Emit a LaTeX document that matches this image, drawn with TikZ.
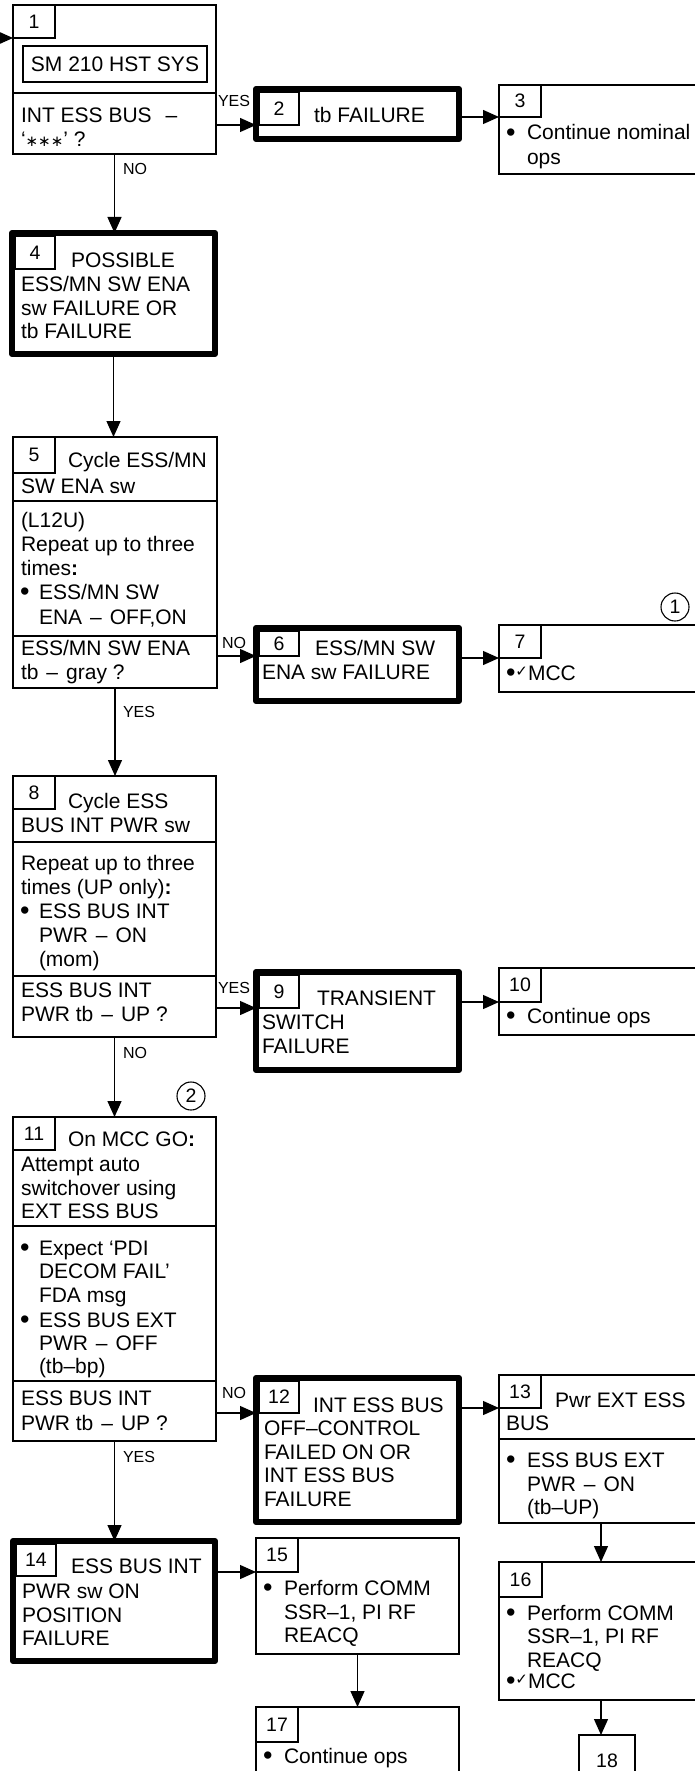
\documentclass[tikz,border=0pt]{standalone}
\usepackage{fontspec}
\setmainfont{Liberation Sans}
\newfontfamily\dejavu{DejaVu Sans}
\usetikzlibrary{arrows.meta}
\newcommand\chk{{\dejavu\fontsize{15}{15}\selectfont\raisebox{4pt}{✓}}}
\newcommand\bul{{\fontsize{27}{24}\selectfont\raisebox{-1.5pt}{•}}}
\newcommand\stars{{\dejavu\fontsize{15}{15}\selectfont ∗∗∗}}
\newcommand\gap{\hspace{8pt}}
\begin{document}
\begin{tikzpicture}[x=1pt,y=-1pt,
  tb/.style={draw, line width=1.3pt, inner sep=0pt, outer sep=0pt, anchor=north west},
  kb/.style={draw, line width=6pt, line join=round, inner sep=0pt, outer sep=0pt, anchor=north west},
  nb/.style={draw, line width=1.3pt, inner sep=0pt, outer sep=0pt, anchor=north west, font=\fontsize{19.5}{20}\selectfont},
  tx/.style={anchor=base west, inner sep=0pt, outer sep=0pt, font=\fontsize{21}{24}\selectfont},
  lb/.style={anchor=base west, inner sep=0pt, outer sep=0pt, font=\fontsize{16}{18}\selectfont},
  cn/.style={draw, circle, line width=1.1pt, minimum size=28pt, inner sep=0pt, font=\fontsize{19.5}{20}\selectfont},
  arr/.style={line width=1.3pt, -{Triangle[length=16pt,width=14pt]}}]
\useasboundingbox (0,0) rectangle (695,1771);

% ---- box 1
\node[tb, minimum width=203, minimum height=88] (b1) at (13,5) {};
\node[tb, minimum width=203, minimum height=61] (b1q) at (13,93) {};
\node[nb, minimum width=42, minimum height=33] (n1) at (13,5) {1};
\node[tb, anchor=center, minimum width=184, minimum height=36, font=\fontsize{21}{24}\selectfont] (sm) at (115,64) {SM 210 HST SYS};
\node[tx] (t1a) at (21,123) {INT ESS BUS\hspace{14pt}–};
\node[tx] (t1b) at (21,147) {‘\stars’ ?};

% ---- box 2
\node[kb, minimum width=203, minimum height=50] (b2) at (256,89) {};
\node[nb, minimum width=40, minimum height=33] (n2) at (259,92) {2};
\node[tx] (t2) at (314,123) {tb FAILURE};

% ---- box 3
\node[tb, minimum width=204, minimum height=89] (b3) at (499,85) {};
\node[nb, minimum width=42, minimum height=32] (n3) at (499,85) {3};
\node[tx] (t3o) at (506,140) {\bul};
\node[tx] (t3a) at (527,140) {Continue nominal};
\node[tx] (t3b) at (527,165) {ops};

% ---- box 4
\node[kb, minimum width=203, minimum height=121] (b4) at (12,233) {};
\node[nb, minimum width=40, minimum height=33] (n4) at (15,236) {4};
\node[tx] (t4a) at (71,267) {POSSIBLE};
\node[tx] (t4b) at (21,291) {ESS/MN SW ENA};
\node[tx] (t4c) at (21,315) {sw FAILURE OR};
\node[tx] (t4d) at (21,338) {tb FAILURE};

% ---- box 5
\node[tb, minimum width=204, minimum height=64] (b5a) at (13,437) {};
\node[tb, minimum width=204, minimum height=135] (b5b) at (13,501) {};
\node[tb, minimum width=204, minimum height=52] (b5c) at (13,636) {};
\node[nb, minimum width=42, minimum height=36] (n5) at (13,437) {5};
\node[tx] (t5a) at (68,467) {Cycle ESS/MN};
\node[tx] (t5b) at (21,493) {SW ENA sw};
\node[tx] (t5c) at (21,527) {(L12U)};
\node[tx] (t5d) at (21,551) {Repeat up to three};
\node[tx] (t5e) at (21,575) {times\textbf{:}};
\node[tx] (t5o) at (20,599) {\bul};
\node[tx] (t5f) at (39,599) {ESS/MN SW};
\node[tx] (t5g) at (39,624) {ENA\gap–\gap OFF,ON};
\node[tx] (t5h) at (21,655) {ESS/MN SW ENA};
\node[tx] (t5i) at (21,679) {tb\gap–\gap gray ?};

% ---- box 6
\node[kb, minimum width=203, minimum height=73] (b6) at (256,628) {};
\node[nb, minimum width=40, minimum height=25] (n6) at (259,631) {6};
\node[tx] (t6a) at (315,655) {ESS/MN SW};
\node[tx] (t6b) at (262,679) {ENA sw FAILURE};

% ---- box 7
\node[tb, minimum width=204, minimum height=67] (b7) at (499,625) {};
\node[nb, minimum width=42, minimum height=33] (n7) at (499,625) {7};
\node[tx] (t7) at (506,680) {\bul\chk MCC};
\node[cn] (c1) at (675,607) {1};

% ---- box 8
\node[tb, minimum width=203, minimum height=66] (b8a) at (13,776) {};
\node[tb, minimum width=203, minimum height=134] (b8b) at (13,842) {};
\node[tb, minimum width=203, minimum height=61] (b8c) at (13,976) {};
\node[nb, minimum width=42, minimum height=33] (n8) at (13,776) {8};
\node[tx] (t8a) at (68,808) {Cycle ESS};
\node[tx] (t8b) at (21,832) {BUS INT PWR sw};
\node[tx] (t8c) at (21,870) {Repeat up to three};
\node[tx] (t8d) at (21,894) {times (UP only)\textbf{:}};
\node[tx] (t8o) at (20,918) {\bul};
\node[tx] (t8e) at (39,918) {ESS BUS INT};
\node[tx] (t8f) at (39,942) {PWR\gap–\gap ON};
\node[tx] (t8g) at (39,966) {(mom)};
\node[tx] (t8h) at (21,997) {ESS BUS INT};
\node[tx] (t8i) at (21,1021) {PWR tb\gap–\gap UP ?};

% ---- box 9
\node[kb, minimum width=203, minimum height=98] (b9) at (256,972) {};
\node[nb, minimum width=40, minimum height=33] (n9) at (259,975) {9};
\node[tx] (t9a) at (317,1005) {TRANSIENT};
\node[tx] (t9b) at (262,1029) {SWITCH};
\node[tx] (t9c) at (262,1053) {FAILURE};

% ---- box 10
\node[tb, minimum width=204, minimum height=67] (b10) at (499,968) {};
\node[nb, minimum width=42, minimum height=34] (n10) at (499,968) {10};
\node[tx] (t10o) at (506,1023) {\bul};
\node[tx] (t10a) at (527,1023) {Continue ops};

% ---- box 11
\node[tb, minimum width=203, minimum height=109] (b11a) at (13,1117) {};
\node[tb, minimum width=203, minimum height=155] (b11b) at (13,1226) {};
\node[tb, minimum width=203, minimum height=60] (b11c) at (13,1381) {};
\node[nb, minimum width=42, minimum height=33] (n11) at (13,1117) {11};
\node[cn] (c2) at (191,1096) {2};
\node[tx] (t11a) at (68,1146) {On MCC GO\textbf{:}};
\node[tx] (t11b) at (21,1171) {Attempt auto};
\node[tx] (t11c) at (21,1195) {switchover using};
\node[tx] (t11d) at (21,1218) {EXT ESS BUS};
\node[tx] (t11o) at (20,1255) {\bul};
\node[tx] (t11e) at (39,1255) {Expect ‘PDI};
\node[tx] (t11f) at (39,1278) {DECOM FAIL’};
\node[tx] (t11g) at (39,1302) {FDA msg};
\node[tx] (t11p) at (20,1327) {\bul};
\node[tx] (t11h) at (39,1327) {ESS BUS EXT};
\node[tx] (t11i) at (39,1350) {PWR\gap–\gap OFF};
\node[tx] (t11j) at (39,1373) {(tb–bp)};
\node[tx] (t11k) at (21,1405) {ESS BUS INT};
\node[tx] (t11l) at (21,1430) {PWR tb\gap–\gap UP ?};

% ---- box 12
\node[kb, minimum width=203, minimum height=144] (b12) at (256,1378) {};
\node[nb, minimum width=40, minimum height=32] (n12) at (259,1381) {12};
\node[tx] (t12a) at (313,1412) {INT ESS BUS};
\node[tx] (t12b) at (264,1435) {OFF–CONTROL};
\node[tx] (t12c) at (264,1459) {FAILED ON OR};
\node[tx] (t12d) at (264,1482) {INT ESS BUS};
\node[tx] (t12e) at (264,1506) {FAILURE};

% ---- box 13
\node[tb, minimum width=204, minimum height=64] (b13a) at (499,1375) {};
\node[tb, minimum width=204, minimum height=84] (b13b) at (499,1439) {};
\node[nb, minimum width=42, minimum height=33] (n13) at (499,1375) {13};
\node[tx] (t13a) at (555,1407) {Pwr EXT ESS};
\node[tx] (t13b) at (506,1430) {BUS};
\node[tx] (t13o) at (506,1467) {\bul};
\node[tx] (t13c) at (527,1467) {ESS BUS EXT};
\node[tx] (t13d) at (527,1491) {PWR\gap–\gap ON};
\node[tx] (t13e) at (527,1514) {(tb–UP)};

% ---- box 14
\node[kb, minimum width=202, minimum height=120] (b14) at (13,1541) {};
\node[nb, minimum width=40, minimum height=32] (n14) at (16,1544) {14};
\node[tx] (t14a) at (71,1573) {ESS BUS INT};
\node[tx] (t14b) at (22,1598) {PWR sw ON};
\node[tx] (t14c) at (22,1622) {POSITION};
\node[tx] (t14d) at (22,1645) {FAILURE};

% ---- box 15
\node[tb, minimum width=203, minimum height=116] (b15) at (256,1538) {};
\node[nb, minimum width=42, minimum height=34] (n15) at (256,1538) {15};
\node[tx] (t15o) at (263,1595) {\bul};
\node[tx] (t15a) at (284,1595) {Perform COMM};
\node[tx] (t15b) at (284,1619) {SSR–1, PI RF};
\node[tx] (t15c) at (284,1642) {REACQ};

% ---- box 16
\node[tb, minimum width=204, minimum height=138] (b16) at (499,1562) {};
\node[nb, minimum width=43, minimum height=35] (n16) at (499,1562) {16};
\node[tx] (t16o) at (506,1620) {\bul};
\node[tx] (t16a) at (527,1620) {Perform COMM};
\node[tx] (t16b) at (527,1643) {SSR–1, PI RF};
\node[tx] (t16c) at (527,1667) {REACQ};
\node[tx] (t16d) at (506,1688) {\bul\chk MCC};

% ---- box 17
\node[tb, minimum width=203, minimum height=80] (b17) at (256,1707) {};
\node[nb, minimum width=42, minimum height=35] (n17) at (256,1707) {17};
\node[tx] (t17o) at (263,1763) {\bul};
\node[tx] (t17a) at (284,1763) {Continue ops};

% ---- box 18
\node[tb, minimum width=56, minimum height=50] (b18) at (579,1735) {};
\node[anchor=base, inner sep=0pt, font=\fontsize{19.5}{20}\selectfont] (t18) at (607,1767) {18};

% ---- connectors
\coordinate (entry) at (0,38);
\draw[arr] (entry) -- (b1.west |- n1.south);
\draw[arr] (b1q.east |- n2.south) -- (b2.west |- n2.south);
\draw[arr] (b2.east |- n3.south) -- (n3.south west);
\draw[arr] (b1q.south) -- (b1q.south |- b4.north);
\draw[arr] (b4.south) -- (b4.south |- b5a.north);
\draw[arr] (b5c.east |- n6.south) -- (b6.west |- n6.south);
\draw[arr] (b6.east |- n7.south) -- (n7.south west);
\draw[arr] (b5c.south) -- (b5c.south |- b8a.north);
\draw[arr] (b8c.east |- n9.south) -- (b9.west |- n9.south);
\draw[arr] (b9.east |- n10.south) -- (n10.south west);
\draw[arr] (b8c.south) -- (b8c.south |- b11a.north);
\draw[arr] (b11c.east |- n12.south) -- (b12.west |- n12.south);
\draw[arr] (b12.east |- n13.south) -- (n13.south west);
\draw[arr] (b11c.south) -- (b11c.south |- b14.north);
\draw[arr] (b14.east |- n15.south) -- (n15.south west);
\draw[arr] (b13b.south) -- (b13b.south |- b16.north);
\draw[arr] (b15.south) -- (b15.south |- b17.north);
\draw[arr] (b16.south) -- (b16.south |- b18.north);

% ---- labels
\node[lb] (l1) at (218,107) {YES};
\node[lb] (l2) at (123,175) {NO};
\node[lb] (l3) at (222,648) {NO};
\node[lb] (l4) at (123,717) {YES};
\node[lb] (l5) at (218,993) {YES};
\node[lb] (l6) at (123,1058) {NO};
\node[lb] (l7) at (222,1398) {NO};
\node[lb] (l8) at (123,1462) {YES};
\end{tikzpicture}
\end{document}
